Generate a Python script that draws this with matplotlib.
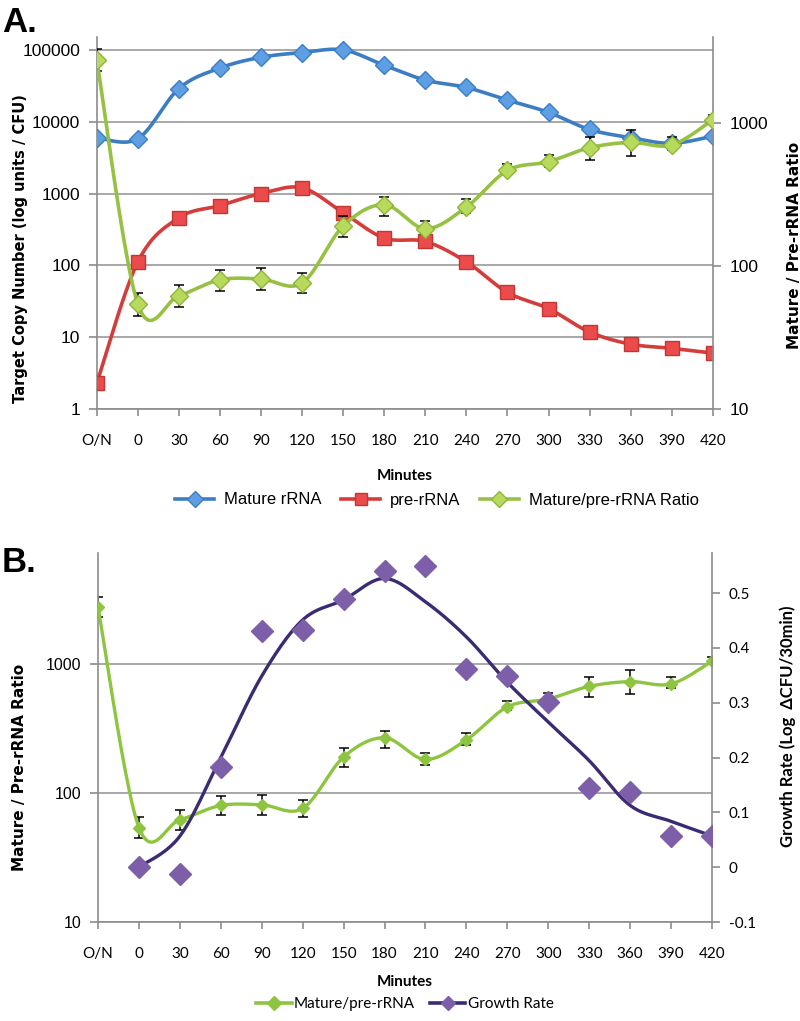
import numpy as np
import matplotlib
matplotlib.use('Agg')
import matplotlib.pyplot as plt
from matplotlib.lines import Line2D

# datos
minutes = ['O/N', '0', '30', '60', '90', '120', '150', '180', '210',
           '240', '270', '300', '330', '360', '390', '420']
mature_rrna = [6000, 5800, 29000, 56000, 79000, 92000, 100000, 61000, 38000,
               30000, 20000, 13500, 7800, 6000, 5000, 6300]
pre_rrna = [2.3, 112, 460, 680, 1000, 1200, 540, 240, 215,
            112, 42, 25, 11.8, 8, 7, 6]
ratio = [2750, 54, 62, 80, 81, 76, 190, 268, 182, 258, 465, 535, 670, 730, 700, 1050]
ratio_low = [2300, 45, 52, 67, 68, 65, 159, 224, 166, 234, 438, 490, 550, 590, 650, 1000]
ratio_high = [3300, 65, 74, 94, 97, 89, 224, 303, 205, 293, 514, 600, 790, 890, 790, 1138]
# tasa de crecimiento: sin valor para O/N
growth_minutes = minutes[1:]
growth_rate = [0.0, -0.013, 0.183, 0.43, 0.433, 0.49, 0.54, 0.55, 0.362,
               0.348, 0.302, 0.144, 0.137, 0.057, 0.057]

BLUE, BLUE_M = '#3C7DC4', '#5E9EE2'
RED, RED_M = '#D43D3A', '#EC4B4B'
GREEN, GREEN_M = '#97C142', '#B8DA5C'
GREEN_B = '#8DC540'
PURPLE_L, PURPLE_M = '#3B2B72', '#7C5FA8'
GRID = '#9A9A9A'
SANS = ['Liberation Sans', 'DejaVu Sans']
CAL = ['Lato', 'DejaVu Sans']


def smooth(x, y, logy=True, n=24):
    # curva suavizada tipo Excel (Catmull-Rom), en espacio log si hace falta
    x = np.asarray(x, float)
    y = np.log10(y) if logy else np.asarray(y, float)
    px, py = [], []
    for i in range(len(x) - 1):
        p0 = (x[i - 1], y[i - 1]) if i > 0 else (x[i], y[i])
        p1 = (x[i], y[i])
        p2 = (x[i + 1], y[i + 1])
        p3 = (x[i + 2], y[i + 2]) if i + 2 < len(x) else (x[i + 1], y[i + 1])
        c1 = (p1[0] + (p2[0] - p0[0]) / 6, p1[1] + (p2[1] - p0[1]) / 6)
        c2 = (p2[0] - (p3[0] - p1[0]) / 6, p2[1] - (p3[1] - p1[1]) / 6)
        t = np.linspace(0, 1, n)
        for a, b, c, d, out in ((p1[0], c1[0], c2[0], p2[0], px), (p1[1], c1[1], c2[1], p2[1], py)):
            out.extend((1 - t) ** 3 * a + 3 * (1 - t) ** 2 * t * b + 3 * (1 - t) * t ** 2 * c + t ** 3 * d)
    py = np.array(py)
    return np.array(px), (10 ** py if logy else py)


def style_axis(ax):
    ax.spines['top'].set_visible(False)
    for s in ['left', 'right', 'bottom']:
        ax.spines[s].set_color('#8C8C8C')
        ax.spines[s].set_linewidth(1.2)
    ax.tick_params(colors='#8C8C8C', length=6, width=1.2)


x = np.arange(len(minutes))
xg = np.arange(1, len(minutes))

fig = plt.figure(figsize=(8, 10.21), dpi=100)

# ---------- Panel A ----------
ax1 = fig.add_axes([0.121, 1 - 409 / 1021, 0.77, 372 / 1021])
ax2 = ax1.twinx()
ax1.set_yscale('log')
ax2.set_yscale('log')
ax1.set_xlim(0, 15)
ax1.set_ylim(1, 10 ** 5.18)
ax2.set_ylim(10, 10 ** 3.6)
ax1.set_axisbelow(True)
ax1.set_yticks([1, 10, 100, 1000, 10000, 100000])
ax1.set_yticklabels(['1', '10', '100', '1000', '10000', '100000'])
ax1.yaxis.set_minor_locator(matplotlib.ticker.NullLocator())
ax2.set_yticks([10, 100, 1000])
ax2.set_yticklabels(['10', '100', '1000'])
ax2.yaxis.set_minor_locator(matplotlib.ticker.NullLocator())
ax1.grid(axis='y', color=GRID, lw=1.2)
ax1.set_xticks(x)
ax1.set_xticklabels(minutes)
for a in (ax1, ax2):
    style_axis(a)
ax2.spines['left'].set_visible(False)
ax2.spines['bottom'].set_visible(False)
ax1.spines['right'].set_visible(False)
for lab in ax1.get_yticklabels() + ax2.get_yticklabels():
    lab.set_family(SANS)
    lab.set_fontsize(12.5)
    lab.set_color('black')
for lab in ax1.get_xticklabels():
    lab.set_family(CAL)
    lab.set_fontsize(11)
    lab.set_color('black')
ax1.tick_params(axis='y', pad=6)
ax2.tick_params(axis='y', pad=6)
ax1.tick_params(axis='x', pad=13, length=5)

sx, sy = smooth(x, mature_rrna)
ax1.plot(sx, sy, color=BLUE, lw=2.6, zorder=3)
ax1.plot(x, mature_rrna, 'D', ms=9.5, mfc=BLUE_M, mec=BLUE, mew=1, zorder=4)
sx, sy = smooth(x, pre_rrna)
ax1.plot(sx, sy, color=RED, lw=2.6, zorder=3)
ax1.plot(x, pre_rrna, 's', ms=10, mfc=RED_M, mec='#C23634', mew=1, zorder=4)

r = np.array(ratio, float)
ax2.errorbar(x, r, yerr=[r - np.array(ratio_low), np.array(ratio_high) - r], fmt='none',
             ecolor='black', elinewidth=1.1, capsize=3.5, capthick=1.1, zorder=2)
sx, sy = smooth(x, ratio)
ax2.plot(sx, sy, color=GREEN, lw=2.6, zorder=3)
ax2.plot(x, ratio, 'D', ms=9, mfc=GREEN_M, mec='#8DB53A', mew=1, zorder=4)

ax1.set_ylabel('Target Copy Number (log units / CFU)', family='DejaVu Sans',
               fontweight='bold', fontsize=10.5)
ax1.yaxis.set_label_coords(-0.111, 0.43)
ax2.set_ylabel('Mature / Pre-rRNA Ratio', family='DejaVu Sans', fontweight='bold',
               fontsize=11, rotation=90)
ax2.yaxis.set_label_coords(1.12, 0.44)
fig.text(405 / 800, 1 - 476 / 1021, 'Minutes', family=CAL, fontweight='bold',
         fontsize=11, ha='center', va='center')

hA = [Line2D([], [], color=BLUE, lw=2.6, marker='D', ms=8, mfc=BLUE_M, mec=BLUE),
      Line2D([], [], color=RED, lw=2.6, marker='s', ms=9, mfc=RED_M, mec='#C23634'),
      Line2D([], [], color=GREEN, lw=2.6, marker='D', ms=8, mfc=GREEN_M, mec='#8DB53A')]
fig.legend(hA, ['Mature rRNA', 'pre-rRNA', 'Mature/pre-rRNA Ratio'], loc='center',
           bbox_to_anchor=(437 / 800, 1 - 500 / 1021), ncol=3, frameon=False,
           prop={'family': SANS, 'size': 12}, handlelength=2.35, handletextpad=0.6,
           columnspacing=1.15)

fig.text(2 / 800, 1 - 32 / 1021, 'A.', family=SANS, fontweight='bold', fontsize=25,
         va='baseline')

# ---------- Panel B ----------
bx1 = fig.add_axes([0.1225, 1 - 922 / 1021, 0.7675, 369 / 1021])
bx2 = bx1.twinx()
bx1.set_yscale('log')
bx1.set_xlim(0, 15)
bx1.set_ylim(10, 10 ** 3.86)
bx2.set_ylim(-0.1, 0.5 + 40 / 547)
bx1.set_axisbelow(True)
bx1.set_yticks([10, 100, 1000])
bx1.set_yticklabels(['10', '100', '1000'])
bx1.yaxis.set_minor_locator(matplotlib.ticker.NullLocator())
bx2.set_yticks([-0.1, 0, 0.1, 0.2, 0.3, 0.4, 0.5])
bx2.set_yticklabels(['-0.1', '0', '0.1', '0.2', '0.3', '0.4', '0.5'])
bx1.grid(axis='y', color=GRID, lw=1.2)
bx1.set_xticks(x)
bx1.set_xticklabels(minutes)
for a in (bx1, bx2):
    style_axis(a)
bx2.spines['left'].set_visible(False)
bx2.spines['bottom'].set_visible(False)
bx1.spines['right'].set_visible(False)
for lab in bx1.get_yticklabels():
    lab.set_family(SANS)
    lab.set_fontsize(11.5)
    lab.set_color('black')
for lab in bx2.get_yticklabels():
    lab.set_family(CAL)
    lab.set_fontsize(11)
    lab.set_color('black')
for lab in bx1.get_xticklabels():
    lab.set_family(CAL)
    lab.set_fontsize(11)
    lab.set_color('black')
bx1.tick_params(axis='y', pad=6)
bx2.tick_params(axis='y', pad=6)
bx1.tick_params(axis='x', pad=13, length=5)

bx1.errorbar(x, r, yerr=[r - np.array(ratio_low), np.array(ratio_high) - r], fmt='none',
             ecolor='black', elinewidth=1.1, capsize=3.5, capthick=1.1, zorder=2)
sx, sy = smooth(x, ratio)
bx1.plot(sx, sy, color=GREEN_B, lw=2.4, zorder=3)
bx1.plot(x, ratio, 'D', ms=6, mfc=GREEN_B, mec=GREEN_B, zorder=4)

# tendencia: media móvil centrada de 3 puntos (extremos sin cambiar), suavizada
g = np.array(growth_rate, float)
g_avg = g.copy()
g_avg[1:-1] = np.convolve(g, np.ones(3) / 3, mode='valid')
sx, sy = smooth(xg, g_avg, logy=False)
bx2.plot(sx, sy, color=PURPLE_L, lw=2.4, zorder=3)
bx2.plot(xg, growth_rate, 'D', ms=11, mfc=PURPLE_M, mec=PURPLE_M, zorder=4)

bx1.set_ylabel('Mature / Pre-rRNA Ratio', family='DejaVu Sans', fontweight='bold',
               fontsize=11)
bx1.yaxis.set_label_coords(-0.116, 0.42)
bx2.set_ylabel('Growth Rate (Log  ΔCFU/30min)', family=CAL, fontweight='bold',
               fontsize=12, rotation=90)
bx2.yaxis.set_label_coords(1.11, 0.53)
fig.text(405 / 800, 1 - 982 / 1021, 'Minutes', family=CAL, fontweight='bold',
         fontsize=11, ha='center', va='center')

hB = [Line2D([], [], color=GREEN_B, lw=2.6, marker='D', ms=7, mfc=GREEN_B, mec=GREEN_B),
      Line2D([], [], color=PURPLE_L, lw=2.6, marker='D', ms=7, mfc=PURPLE_M, mec=PURPLE_M)]
fig.legend(hB, ['Mature/pre-rRNA', 'Growth Rate'], loc='center',
           bbox_to_anchor=(405 / 800, 1 - 1004 / 1021), ncol=2, frameon=False,
           prop={'family': CAL, 'size': 11}, handlelength=2.3, handletextpad=0.15,
           columnspacing=1.0)

fig.text(2 / 800, 1 - 572 / 1021, 'B.', family=SANS, fontweight='bold', fontsize=25,
         va='baseline')

fig.savefig('out.png', dpi=100)
